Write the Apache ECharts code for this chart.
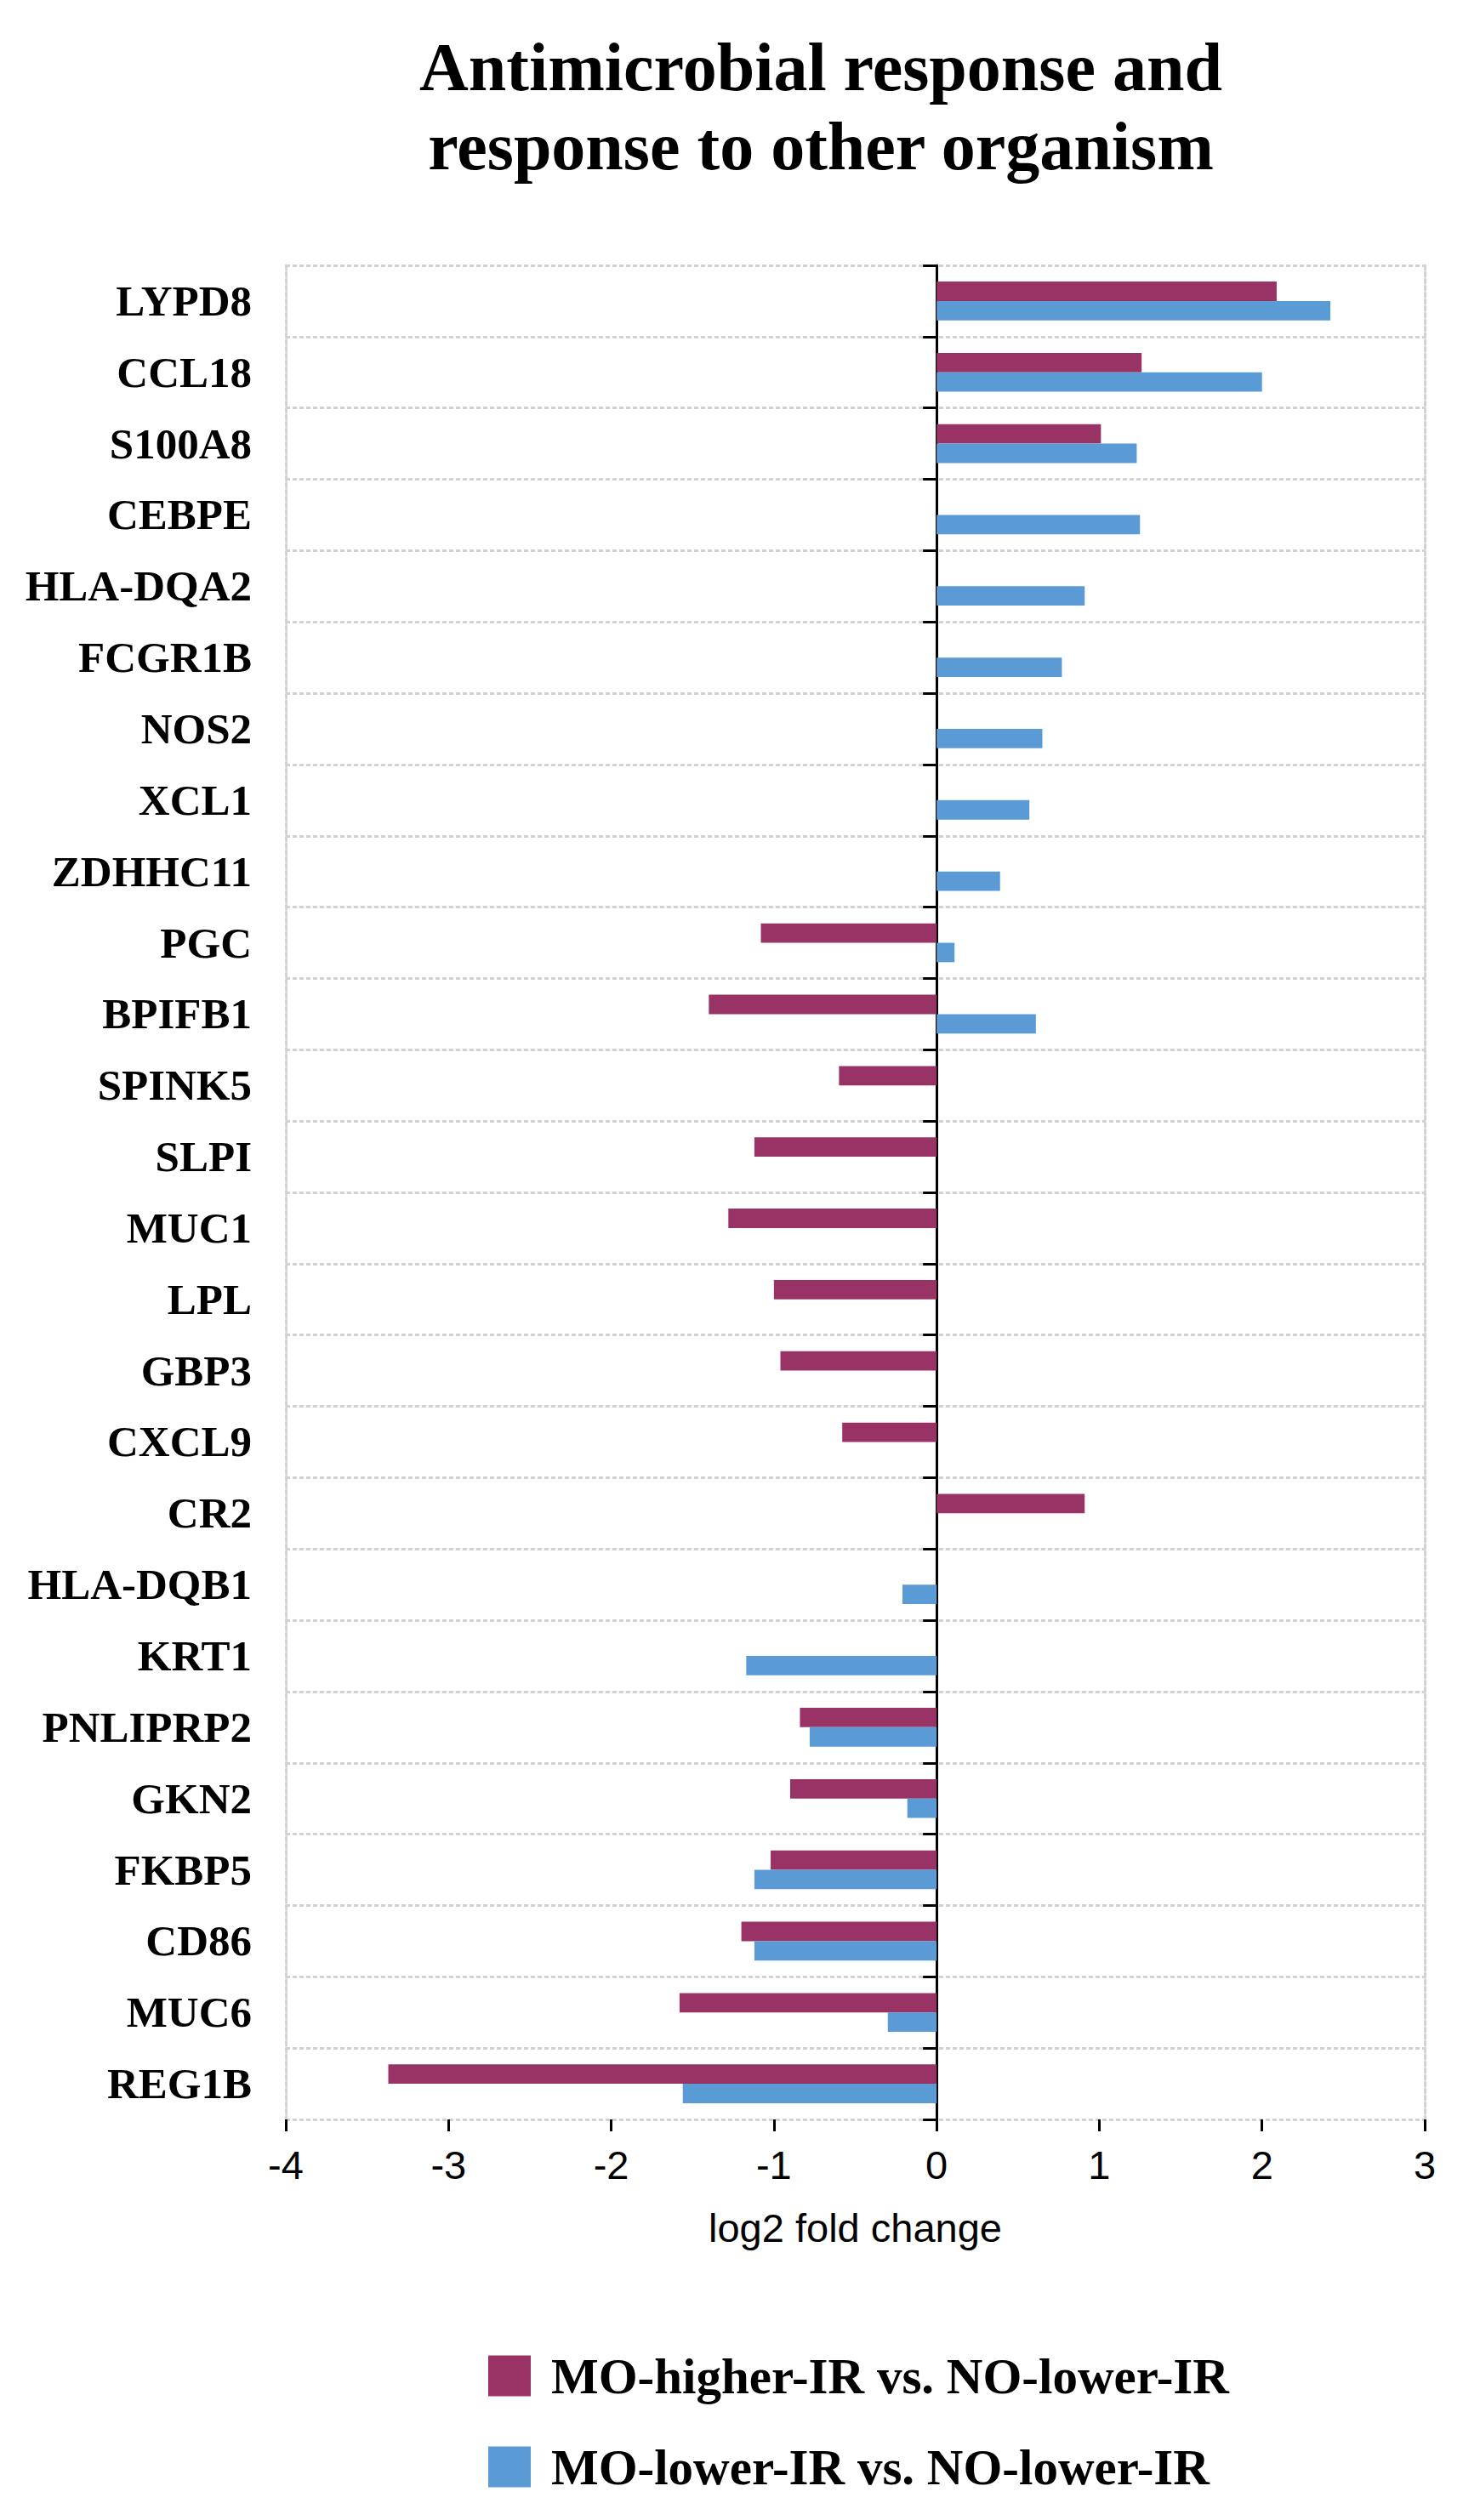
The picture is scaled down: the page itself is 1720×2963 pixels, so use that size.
<!DOCTYPE html>
<html>
<head>
<meta charset="utf-8">
<script src="https://cdn.jsdelivr.net/npm/echarts@6/dist/echarts.min.js"></script>
<style>
html,body{margin:0;padding:0;background:#fff;}
#chart{width:1720px;height:2963px;}
</style>
</head>
<body>
<div id="chart"></div>
<script>
const titleText = 'Antimicrobial response and\nresponse to other organism';
const genes = ['LYPD8','CCL18','S100A8','CEBPE','HLA-DQA2','FCGR1B','NOS2','XCL1','ZDHHC11','PGC','BPIFB1','SPINK5','SLPI','MUC1','LPL','GBP3','CXCL9','CR2','HLA-DQB1','KRT1','PNLIPRP2','GKN2','FKBP5','CD86','MUC6','REG1B'];
const seriesNames = ['MO-higher-IR vs. NO-lower-IR', 'MO-lower-IR vs. NO-lower-IR'];
const higherIR = [2.09, 1.26, 1.01, null, null, null, null, null, null, -1.08, -1.40, -0.60, -1.12, -1.28, -1.00, -0.96, -0.58, 0.91, null, null, -0.84, -0.90, -1.02, -1.20, -1.58, -3.37];
const lowerIR = [2.42, 2.00, 1.23, 1.25, 0.91, 0.77, 0.65, 0.57, 0.39, 0.11, 0.61, null, null, null, null, null, null, null, -0.21, -1.17, -0.78, -0.18, -1.12, -1.12, -0.30, -1.56];
const xMin = -4, xMax = 3, xStep = 1;
const xName = 'log2 fold change';

const serif = "'Liberation Serif','Times New Roman',serif";
const sans = "'Liberation Sans',Arial,sans-serif";
const gridGray = '#d2d2d2';

const chart = echarts.init(document.getElementById('chart'), null, {renderer: 'svg'});
chart.setOption({
  backgroundColor: '#ffffff',
  animation: false,
  title: {
    text: titleText,
    left: 960,
    top: 27,
    textAlign: 'center',
    textStyle: {fontFamily: serif, fontWeight: 'bold', fontSize: 80, lineHeight: 93, color: '#000'}
  },
  legend: {
    data: seriesNames,
    orient: 'vertical',
    left: 569,
    top: 2759,
    itemWidth: 50,
    itemHeight: 48,
    itemGap: 48,
    icon: 'rect',
    textStyle: {fontFamily: serif, fontWeight: 'bold', fontSize: 59, lineHeight: 48, color: '#000', padding: [0, 0, 0, 19]}
  },
  grid: {left: 336, right: 45, top: 312, bottom: 471, containLabel: false},
  xAxis: {
    type: 'value',
    min: xMin, max: xMax, interval: xStep,
    position: 'bottom',
    name: xName,
    nameLocation: 'middle',
    nameGap: 104,
    nameTextStyle: {fontFamily: sans, fontSize: 47, color: '#000'},
    axisLine: {onZero: false, lineStyle: {color: '#000', width: 3}},
    axisTick: {show: true, length: 14, lineStyle: {color: '#000', width: 3}},
    axisLabel: {fontFamily: sans, fontSize: 47, color: '#000', margin: 30},
    splitLine: {show: false}
  },
  yAxis: [
    {
      type: 'category', data: genes, inverse: true, position: 'left',
      axisLine: {show: true, onZero: false, lineStyle: {color: gridGray, width: 3, type: [5, 3]}},
      axisTick: {show: false},
      axisLabel: {fontFamily: serif, fontWeight: 'bold', fontSize: 51, color: '#000', margin: 40},
      splitLine: {show: true, lineStyle: {color: gridGray, width: 3, type: [5, 3]}}
    },
    {
      type: 'category', data: genes, inverse: true, position: 'right',
      axisLine: {show: true, onZero: false, lineStyle: {color: gridGray, width: 3, type: [5, 3]}},
      axisTick: {show: false},
      axisLabel: {show: false},
      splitLine: {show: false}
    },
    {
      type: 'category', data: genes, inverse: true, position: 'left',
      axisLine: {show: true, onZero: true, lineStyle: {color: '#000', width: 3}},
      axisTick: {show: true, length: 16, lineStyle: {color: '#000', width: 3}},
      axisLabel: {show: false},
      splitLine: {show: false}
    }
  ],
  series: [
    {name: seriesNames[0], type: 'bar', yAxisIndex: 0, data: higherIR, barGap: '0%', barCategoryGap: '45.6%', itemStyle: {color: '#993366'}},
    {name: seriesNames[1], type: 'bar', yAxisIndex: 0, data: lowerIR, barGap: '0%', barCategoryGap: '45.6%', itemStyle: {color: '#5b9bd5'}}
  ]
});
</script>
</body>
</html>
